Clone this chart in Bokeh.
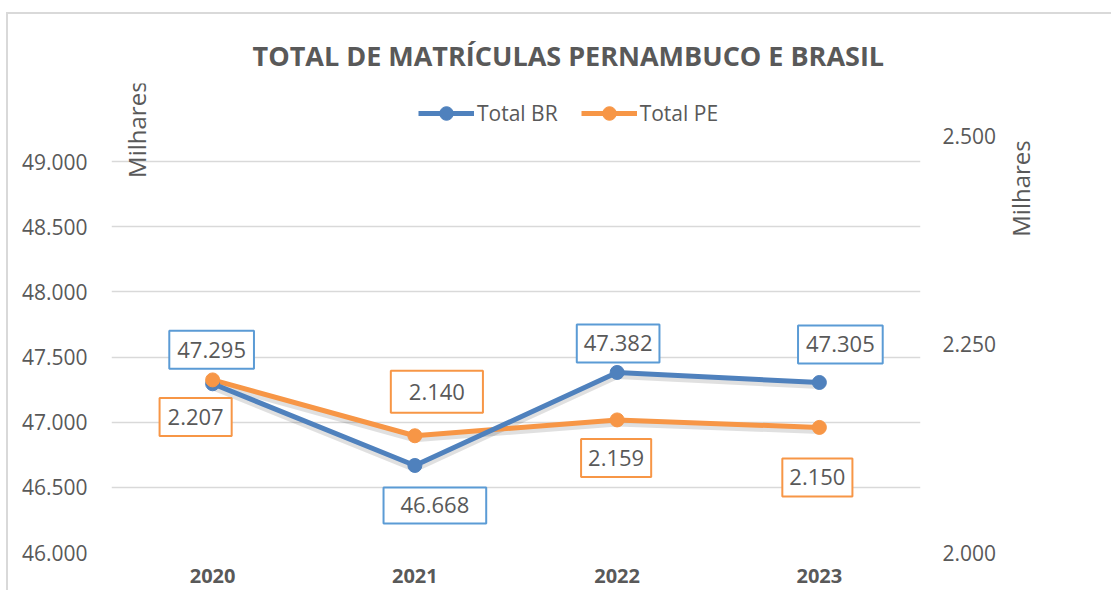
import math
from bokeh.plotting import figure
from bokeh.models import (Range1d, LinearAxis, FixedTicker, CustomJSTickFormatter,
                          Label, Legend, LegendItem)
from bokeh.embed import file_html
from bokeh.resources import INLINE

# ---- data ----
years = ["2020", "2021", "2022", "2023"]
total_br = [47295, 46668, 47382, 47305]   # milhares
total_pe = [2207, 2140, 2159, 2150]       # milhares
left_ticks = [46000, 46500, 47000, 47500, 48000, 48500, 49000]
right_ticks = [2000, 2250, 2500]
title_text = "TOTAL DE MATRÍCULAS PERNAMBUCO E BRASIL"
unit_label = "Milhares"

# ---- style ----
FONT = "Open Sans"
GRAY = "#595959"
BLUE = "#4F81BD"
ORANGE = "#F79646"
BLUE_BOX = "#5B9BD5"
ORANGE_BOX = "#F79646"

LEFT_MIN, LEFT_MAX = 46000, 49600
RIGHT_MIN, RIGHT_MAX = 2000, 2562.5
FRAME_H = 469

p = figure(x_range=years, y_range=Range1d(LEFT_MIN, LEFT_MAX),
           width=1105, height=578, output_backend="svg", toolbar_location=None,
           min_border_left=103, min_border_right=193, min_border_top=69,
           min_border_bottom=40)
# chart-area border (top and left edges, as in the reference)
p.styles = {"border-left": "2px solid #D9D9D9", "border-top": "2px solid #D9D9D9",
            "margin-left": "6px", "margin-top": "12px"}
p.extra_y_ranges = {"pe": Range1d(RIGHT_MIN, RIGHT_MAX)}
p.outline_line_color = None
p.background_fill_color = "white"
p.border_fill_color = "white"

fmt = CustomJSTickFormatter(code="return (tick/1000).toFixed(3);")

# left axis
ya = p.yaxis[0]
ya.ticker = FixedTicker(ticks=left_ticks)
ya.formatter = fmt
ya.axis_line_color = None
ya.major_tick_line_color = None
ya.minor_tick_line_color = None
ya.major_label_text_font = FONT
ya.major_label_text_font_size = "21px"
ya.major_label_text_color = GRAY
ya.major_label_standoff = 18

# right axis
ra = LinearAxis(y_range_name="pe", ticker=FixedTicker(ticks=right_ticks), formatter=fmt)
ra.axis_line_color = None
ra.major_tick_line_color = None
ra.minor_tick_line_color = None
ra.major_label_text_font = FONT
ra.major_label_text_font_size = "21px"
ra.major_label_text_color = GRAY
ra.major_label_standoff = 16
p.add_layout(ra, "right")

# x axis
xa = p.xaxis[0]
xa.axis_line_color = None
xa.major_tick_line_color = None
xa.minor_tick_line_color = None
xa.major_label_text_font = FONT
xa.major_label_text_font_size = "20px"
xa.major_label_text_font_style = "bold"
xa.major_label_text_color = GRAY
xa.major_label_standoff = 10

p.xgrid.grid_line_color = None
p.ygrid.grid_line_color = "#D9D9D9"
p.ygrid.grid_line_width = 1.5

# shadows (3px below, computed through the range scale)
sh_left = 3 * (LEFT_MAX - LEFT_MIN) / FRAME_H
sh_right = 3 * (RIGHT_MAX - RIGHT_MIN) / FRAME_H
p.line(years, [v - sh_left for v in total_br], line_width=7, color="#000000", alpha=0.12)
p.line(years, [v - sh_right for v in total_pe], line_width=7, color="#000000", alpha=0.12,
       y_range_name="pe")

pe_line = p.line(years, total_pe, line_width=5, color=ORANGE, y_range_name="pe")
br_line = p.line(years, total_br, line_width=5, color=BLUE)
br_pts = p.scatter(years, total_br, size=14, color=BLUE)
pe_pts = p.scatter(years, total_pe, size=14, color=ORANGE, y_range_name="pe")

# categorical centres in synthetic coordinates (for annotations)
xc = [i + 0.5 for i in range(len(years))]

# data labels (box centre offsets from the point, in px; padding h, v)
br_off = [(-1, 34), (20, -40), (1, 29), (21, 38)]
br_pad = [(8, 11), (17, 10), (7, 11), (8, 11)]
pe_off = [(-17, -37), (22, 44), (-1, -38), (-2, -50)]
pe_pad = [(8, 11), (18, 13), (7, 11), (7, 11)]

def add_box(x, y, txt, dx, dy, pad, color, rng=None):
    ph, pv = pad
    kw = dict(x=x, y=y, text=txt, x_offset=dx, y_offset=dy,
              text_align="center", text_baseline="middle",
              text_font=FONT, text_font_size="22px", text_color=GRAY,
              background_fill_color="white", border_line_color=color,
              border_line_width=2,
              padding=dict(left=ph, right=ph, top=pv, bottom=pv))
    if rng:
        kw["y_range_name"] = rng
    p.add_layout(Label(**kw))

for x, v, (dx, dy), pad in zip(xc, total_br, br_off, br_pad):
    add_box(x, v, f"{v/1000:.3f}", dx, dy, pad, BLUE_BOX)
for x, v, (dx, dy), pad in zip(xc, total_pe, pe_off, pe_pad):
    add_box(x, v, f"{v/1000:.3f}", dx, dy, pad, ORANGE_BOX, "pe")

# unit labels
p.add_layout(Label(x=xc[0], y=left_ticks[-1], x_offset=-76, y_offset=32, text=unit_label,
                   angle=math.pi / 2, text_align="center", text_baseline="middle",
                   text_font=FONT, text_font_size="24px", text_color=GRAY))
p.add_layout(Label(x=21, y=364, x_units="screen", y_units="screen", text=unit_label,
                   angle=math.pi / 2, text_align="center", text_baseline="middle",
                   text_font=FONT, text_font_size="24px", text_color=GRAY), "right")

# legend (inside the frame, near the top)
legend = Legend(items=[LegendItem(label="Total BR", renderers=[br_line, br_pts]),
                       LegendItem(label="Total PE", renderers=[pe_line, pe_pts])],
                orientation="horizontal", location=(307, 422),
                glyph_width=56, glyph_height=34, label_standoff=3, spacing=23,
                padding=5, margin=0, border_line_color=None,
                background_fill_alpha=0,
                label_text_font=FONT, label_text_font_size="21px", label_text_color=GRAY)
p.add_layout(legend)

# title
p.title.text = title_text
p.title.text_font = FONT
p.title.text_font_size = "27px"
p.title.text_font_style = "bold"
p.title.text_color = GRAY
p.title.align = "left"
p.title.offset = 141
p.title.standoff = 20

open("out.html", "w").write(file_html(p, INLINE))
